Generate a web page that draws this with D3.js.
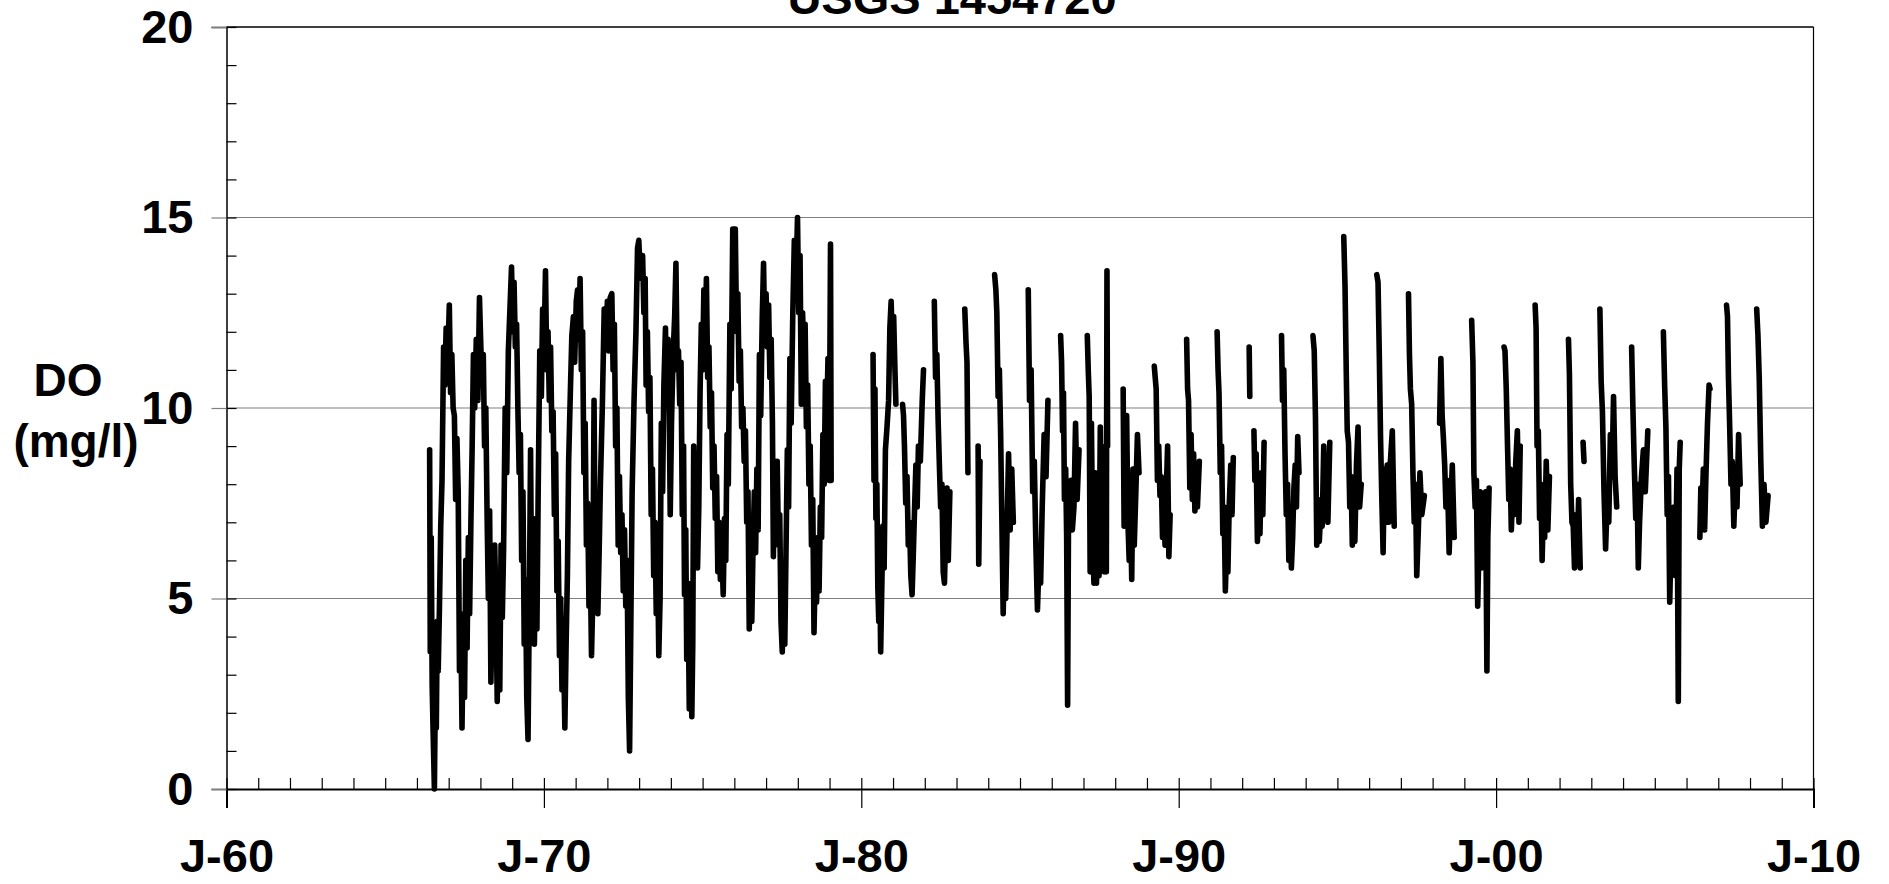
<!DOCTYPE html>
<html>
<head>
<meta charset="utf-8">
<script src="https://cdn.jsdelivr.net/npm/d3@7"></script>
<style>
  html, body { margin: 0; padding: 0; background: #fff; }
  svg { display: block; }
  text { font-family: "Liberation Sans", Arial, sans-serif; font-weight: bold; fill: #000; }
</style>
</head>
<body>
<svg id="chart" width="1889" height="884"></svg>
<script>
// ---------------- DATA (decimal year, DO mg/l; null = gap) ----------------
const chartTitle = "USGS 1454720";
const yLabelLines = ["DO", "(mg/l)"];
const xDomainYears = [1960, 2010];
const yDomain = [0, 20];
const xMajorTicks = [1960, 1970, 1980, 1990, 2000, 2010];
const xTickLabels = ["J-60", "J-70", "J-80", "J-90", "J-00", "J-10"];
const yMajorTicks = [0, 5, 10, 15, 20];
const yGridLines = [5, 10, 15];

const do1966to1969 = [
  [1966.40, 8.9],[1966.42, 3.6],[1966.45, 6.6],[1966.48, 2.7],[1966.51, 1.5],[1966.55, 0.0],[1966.58, 2.6],
  [1966.61, 1.6],[1966.64, 4.4],[1966.67, 3.1],[1966.71, 4.8],[1966.75, 6.9],[1966.79, 8.1],[1966.84, 11.6],
  [1966.88, 10.6],[1966.92, 12.1],[1966.96, 11.0],[1967.02, 12.7],[1967.06, 10.4],[1967.10, 11.4],[1967.14, 10.0],
  [1967.18, 9.8],[1967.22, 7.6],[1967.26, 9.2],[1967.30, 7.8],[1967.34, 3.1],[1967.38, 4.6],[1967.42, 1.6],
  [1967.46, 4.2],[1967.50, 2.4],[1967.54, 6.0],[1967.58, 3.7],[1967.62, 6.6],[1967.66, 4.6],[1967.70, 7.0],
  [1967.74, 9.0],[1967.78, 11.4],[1967.82, 10.0],[1967.87, 11.8],[1967.92, 10.2],[1967.97, 12.9],[1968.01, 11.7],
  [1968.05, 10.6],[1968.09, 11.4],[1968.13, 9.0],[1968.17, 10.0],[1968.21, 7.2],[1968.25, 5.0],[1968.29, 7.3],
  [1968.33, 2.8],[1968.37, 4.6],[1968.41, 3.6],[1968.45, 6.4],[1968.49, 4.8],[1968.53, 2.3],[1968.57, 5.0],
  [1968.61, 2.6],[1968.65, 6.4],[1968.69, 4.5],[1968.73, 6.3],[1968.78, 10.0],[1968.83, 8.3],[1968.88, 11.5],
  [1968.93, 12.6],[1968.98, 13.7],[1969.02, 12.0],[1969.06, 13.3],[1969.10, 11.6],[1969.14, 12.2],[1969.18, 10.0],
  [1969.22, 8.3],[1969.26, 9.3],[1969.30, 6.0],[1969.34, 7.8],[1969.38, 3.8],[1969.42, 5.5],[1969.46, 2.4],
  [1969.50, 1.3],[1969.54, 4.8],[1969.58, 8.9],[1969.62, 4.0],[1969.66, 7.1],[1969.70, 3.8],[1969.74, 6.0],
  [1969.78, 4.2],[1969.82, 7.8],[1969.87, 11.5],[1969.92, 10.3],[1969.96, 12.6]
];

const do1970to1974 = [
  [1970.01, 11.8],[1970.05, 13.6],[1970.09, 11.0],[1970.13, 12.0],[1970.17, 10.2],[1970.21, 11.6],[1970.25, 9.4],
  [1970.29, 9.9],[1970.33, 7.2],[1970.37, 8.8],[1970.41, 5.2],[1970.45, 6.5],[1970.49, 3.5],[1970.53, 5.0],
  [1970.57, 2.6],[1970.61, 4.2],[1970.66, 1.6],[1970.70, 3.8],[1970.74, 5.6],[1970.78, 8.6],[1970.83, 10.3],
  [1970.88, 11.9],[1970.93, 12.4],[1970.97, 11.2],[1971.02, 12.8],[1971.06, 13.1],[1971.10, 11.8],[1971.14, 13.4],
  [1971.18, 11.0],[1971.22, 12.0],[1971.26, 8.3],[1971.30, 9.6],[1971.34, 6.4],[1971.38, 7.5],[1971.42, 4.8],
  [1971.46, 6.0],[1971.50, 3.5],[1971.54, 5.0],[1971.58, 10.2],[1971.62, 5.4],[1971.66, 6.8],[1971.70, 4.6],
  [1971.74, 6.2],[1971.78, 8.0],[1971.84, 10.0],[1971.90, 12.6],[1971.95, 11.6],[1972.00, 12.8],[1972.04, 11.5],
  [1972.09, 12.9],[1972.14, 13.0],[1972.18, 11.0],[1972.22, 12.2],[1972.26, 9.0],[1972.30, 10.0],[1972.34, 6.4],
  [1972.38, 8.2],[1972.42, 6.2],[1972.46, 7.2],[1972.50, 5.2],[1972.54, 6.8],[1972.58, 4.8],[1972.62, 6.0],
  [1972.66, 2.4],[1972.70, 1.0],[1972.74, 4.4],[1972.78, 7.8],[1972.84, 10.2],[1972.90, 12.0],[1972.95, 14.2],
  [1972.99, 14.4],[1973.03, 13.6],[1973.07, 13.4],[1973.11, 14.0],[1973.15, 12.5],[1973.19, 13.4],[1973.22, 10.6],
  [1973.26, 12.0],[1973.30, 9.9],[1973.34, 10.8],[1973.38, 7.2],[1973.42, 8.4],[1973.46, 5.6],[1973.50, 7.0],
  [1973.54, 4.6],[1973.58, 6.2],[1973.62, 3.5],[1973.66, 5.0],[1973.70, 9.6],[1973.74, 7.8],[1973.78, 10.6],
  [1973.83, 12.1],[1973.87, 10.4],[1973.91, 11.8],[1973.95, 9.9],[1973.98, 7.2],[1974.02, 9.6],[1974.07, 11.4],
  [1974.12, 12.4],[1974.16, 13.8],[1974.20, 11.0],[1974.24, 11.5],[1974.28, 10.1],[1974.32, 11.2],[1974.36, 7.2],
  [1974.40, 9.0],[1974.43, 5.1],[1974.47, 6.8],[1974.50, 3.4],[1974.54, 5.4],[1974.58, 2.1],[1974.62, 4.8],
  [1974.66, 1.9],[1974.69, 3.8],[1974.72, 9.0],[1974.76, 6.4],[1974.80, 8.2],[1974.84, 5.8],[1974.88, 7.4],
  [1974.92, 10.4],[1974.96, 12.2]
];

const do1975to1979 = [
  [1975.00, 11.0],[1975.04, 13.1],[1975.08, 12.0],[1975.12, 13.4],[1975.16, 10.8],[1975.20, 11.6],[1975.24, 9.5],
  [1975.28, 10.4],[1975.32, 7.9],[1975.36, 9.0],[1975.40, 7.1],[1975.44, 8.2],[1975.48, 5.7],[1975.52, 7.0],
  [1975.56, 5.5],[1975.60, 6.4],[1975.65, 5.1],[1975.69, 7.1],[1975.73, 6.0],[1975.77, 9.3],[1975.81, 8.0],
  [1975.86, 12.2],[1975.90, 10.5],[1975.95, 14.7],[1975.99, 12.8],[1976.03, 14.7],[1976.07, 12.0],[1976.11, 13.0],
  [1976.15, 10.7],[1976.19, 11.5],[1976.23, 9.5],[1976.27, 10.0],[1976.31, 8.6],[1976.35, 9.4],[1976.39, 7.0],
  [1976.43, 7.8],[1976.47, 4.2],[1976.51, 6.0],[1976.55, 4.4],[1976.59, 6.4],[1976.63, 7.8],[1976.67, 6.2],
  [1976.71, 8.4],[1976.75, 6.8],[1976.79, 11.4],[1976.83, 9.8],[1976.88, 12.4],[1976.92, 13.8],[1976.96, 11.8],
  [1977.00, 13.0],[1977.04, 11.6],[1977.08, 12.7],[1977.12, 10.8],[1977.16, 11.8],[1977.20, 9.6],[1977.23, 6.1],
  [1977.27, 8.6],[1977.31, 7.4],[1977.35, 8.6],[1977.39, 6.4],[1977.43, 7.2],[1977.47, 4.4],[1977.51, 3.6],
  [1977.55, 5.6],[1977.59, 3.8],[1977.63, 6.4],[1977.67, 8.9],[1977.71, 7.4],[1977.75, 11.3],[1977.79, 9.6],
  [1977.84, 12.4],[1977.89, 14.4],[1977.94, 13.2],[1977.99, 15.0],[1978.03, 12.5],[1978.07, 14.0],[1978.11, 10.1],
  [1978.15, 12.5],[1978.19, 11.3],[1978.23, 12.2],[1978.27, 9.5],[1978.31, 10.6],[1978.35, 8.0],[1978.39, 9.0],
  [1978.43, 6.4],[1978.47, 7.6],[1978.51, 4.1],[1978.55, 5.8],[1978.59, 4.9],[1978.63, 6.6],[1978.67, 5.2],
  [1978.71, 7.4],[1978.75, 6.6],[1978.79, 9.3],[1978.83, 8.0],[1978.87, 10.7],[1978.91, 9.6],[1978.95, 11.3],
  [1978.99, 8.1],[1979.03, 14.3],[1979.05, 8.1],[1979.06, null]
];

const do1980to1986 = [
  [1980.37, 11.4],[1980.40, 8.1],[1980.43, 10.5],[1980.46, 7.1],[1980.49, 8.0],[1980.52, 5.3],[1980.55, 4.4],
  [1980.58, 5.8],[1980.61, 3.6],[1980.64, 5.0],[1980.68, 6.9],[1980.72, 5.8],[1980.76, 8.9],[1980.81, 9.5],
  [1980.86, 10.2],[1980.90, 12.1],[1980.94, 12.8],[1980.98, 11.6],[1981.02, 12.4],[1981.06, 11.0],[1981.09, 10.1],[1981.10, null],
  [1981.30, 10.1],[1981.33, 9.8],[1981.36, 9.0],[1981.40, 7.5],[1981.44, 8.2],[1981.48, 6.4],[1981.52, 7.0],
  [1981.56, 5.6],[1981.60, 5.1],[1981.64, 6.2],[1981.68, 7.4],[1981.72, 8.5],[1981.76, 7.4],[1981.80, 9.0],
  [1981.86, 8.6],[1981.92, 10.2],[1981.96, 11.0],[1981.97, null],
  [1982.30, 12.8],[1982.34, 10.8],[1982.38, 11.4],[1982.42, 9.7],[1982.46, 8.5],[1982.50, 7.4],[1982.54, 8.0],
  [1982.58, 5.7],[1982.62, 5.4],[1982.66, 6.8],[1982.70, 7.9],[1982.74, 6.0],[1982.79, 7.8],[1982.80, null],
  [1983.26, 12.6],[1983.30, 11.7],[1983.33, 11.2],[1983.36, 8.3],[1983.37, null],
  [1983.68, 9.0],[1983.70, 5.9],[1983.74, 8.6],[1983.75, null],
  [1984.20, 13.5],[1984.24, 13.1],[1984.27, 12.5],[1984.31, 10.3],[1984.35, 11.0],[1984.39, 9.3],[1984.43, 7.0],
  [1984.47, 4.6],[1984.51, 6.2],[1984.55, 5.0],[1984.60, 7.2],[1984.64, 8.8],[1984.69, 6.8],[1984.74, 8.4],
  [1984.79, 7.0],[1984.80, null],
  [1985.26, 13.1],[1985.30, 10.2],[1985.35, 11.0],[1985.40, 7.8],[1985.45, 8.6],[1985.50, 6.4],[1985.55, 4.7],
  [1985.60, 6.0],[1985.65, 5.4],[1985.70, 7.4],[1985.76, 9.3],[1985.82, 8.2],[1985.88, 10.2],[1985.89, null],
  [1986.28, 11.9],[1986.31, 11.2],[1986.34, 9.4],[1986.37, 10.4],[1986.40, 7.6],[1986.44, 8.4],[1986.47, 6.6],
  [1986.50, 2.2],[1986.53, 7.4],[1986.57, 6.9],[1986.61, 8.1],[1986.65, 6.8],[1986.70, 7.4],[1986.75, 9.6],
  [1986.80, 7.6],[1986.86, 8.9],[1986.87, null]
];

const do1987to1993 = [
  [1987.12, 11.9],[1987.15, 11.0],[1987.18, 10.3],[1987.21, 5.7],[1987.25, 9.6],[1987.29, 6.4],[1987.33, 5.4],
  [1987.37, 8.3],[1987.41, 5.4],[1987.45, 7.4],[1987.49, 5.6],[1987.53, 9.5],[1987.57, 6.0],[1987.61, 8.7],
  [1987.65, 5.7],[1987.69, 9.0],[1987.72, 5.7],[1987.74, 13.6],[1987.76, 9.0],[1987.77, null],
  [1988.25, 10.5],[1988.28, 6.9],[1988.32, 8.0],[1988.36, 9.8],[1988.40, 7.0],[1988.44, 6.0],[1988.48, 7.4],
  [1988.52, 5.5],[1988.56, 8.4],[1988.60, 6.4],[1988.65, 7.8],[1988.70, 9.3],[1988.75, 8.3],[1988.76, null],
  [1989.23, 11.1],[1989.26, 10.8],[1989.29, 10.5],[1989.33, 8.1],[1989.37, 9.0],[1989.41, 7.7],[1989.45, 8.2],
  [1989.49, 6.6],[1989.53, 7.4],[1989.57, 6.4],[1989.61, 7.8],[1989.65, 9.0],[1989.69, 6.1],[1989.73, 7.2],[1989.74, null],
  [1990.25, 11.8],[1990.28, 10.5],[1990.31, 10.2],[1990.35, 7.9],[1990.39, 9.3],[1990.43, 7.6],[1990.47, 8.8],
  [1990.51, 7.3],[1990.55, 8.2],[1990.59, 7.4],[1990.65, 8.6],[1990.66, null],
  [1991.21, 12.0],[1991.24, 11.0],[1991.27, 10.4],[1991.31, 8.3],[1991.35, 9.0],[1991.39, 6.7],[1991.43, 7.4],
  [1991.47, 5.2],[1991.51, 6.4],[1991.55, 5.7],[1991.59, 7.4],[1991.64, 8.5],[1991.68, 7.2],[1991.72, 8.7],[1991.73, null],
  [1992.22, 11.6],[1992.24, 10.3],[1992.25, null],
  [1992.37, 9.4],[1992.40, 8.1],[1992.44, 8.8],[1992.48, 6.5],[1992.52, 7.6],[1992.56, 6.7],[1992.60, 8.3],
  [1992.65, 7.2],[1992.69, 9.1],[1992.70, null],
  [1993.24, 11.9],[1993.27, 10.2],[1993.31, 11.0],[1993.35, 8.8],[1993.39, 7.2],[1993.43, 8.0],[1993.47, 6.0],
  [1993.51, 7.2],[1993.55, 5.8],[1993.59, 6.6],[1993.63, 7.9],[1993.67, 8.5],[1993.71, 7.4],[1993.75, 9.25],
  [1993.79, 8.3],[1993.80, null]
];

const do1994to2000 = [
  [1994.23, 11.9],[1994.27, 11.5],[1994.31, 9.7],[1994.35, 6.4],[1994.39, 7.6],[1994.43, 6.5],[1994.47, 7.2],
  [1994.52, 6.9],[1994.57, 9.0],[1994.61, 7.2],[1994.65, 8.0],[1994.70, 7.0],[1994.76, 9.1],[1994.77, null],
  [1995.20, 14.5],[1995.24, 13.2],[1995.28, 10.9],[1995.31, 9.4],[1995.35, 9.1],[1995.39, 7.4],[1995.43, 8.2],
  [1995.47, 6.4],[1995.51, 7.0],[1995.55, 6.5],[1995.60, 8.5],[1995.65, 9.5],[1995.70, 7.4],[1995.75, 8.0],[1995.76, null],
  [1996.24, 13.5],[1996.28, 13.3],[1996.32, 11.4],[1996.36, 9.2],[1996.40, 7.6],[1996.44, 6.2],[1996.48, 8.4],
  [1996.52, 7.0],[1996.57, 8.5],[1996.62, 7.0],[1996.67, 8.6],[1996.73, 9.4],[1996.79, 6.9],[1996.80, null],
  [1997.24, 13.0],[1997.27, 11.4],[1997.30, 10.5],[1997.34, 10.1],[1997.38, 8.3],[1997.42, 7.0],[1997.46, 8.0],
  [1997.50, 5.6],[1997.55, 6.8],[1997.60, 8.3],[1997.66, 7.2],[1997.74, 7.7],[1997.75, null],
  [1998.22, 9.6],[1998.26, 11.3],[1998.30, 9.8],[1998.34, 9.2],[1998.38, 8.5],[1998.42, 7.4],[1998.47, 8.1],
  [1998.52, 6.2],[1998.57, 7.4],[1998.62, 8.5],[1998.68, 6.6],[1998.69, null],
  [1999.23, 12.3],[1999.27, 11.2],[1999.30, 8.3],[1999.34, 7.4],[1999.38, 8.1],[1999.42, 4.8],[1999.46, 6.4],
  [1999.50, 7.8],[1999.54, 5.8],[1999.58, 7.4],[1999.62, 6.8],[1999.67, 7.8],[1999.71, 3.1],[1999.74, 6.6],
  [1999.78, 7.9],[1999.79, null],
  [2000.25, 11.6],[2000.28, 11.5],[2000.32, 10.5],[2000.36, 9.0],[2000.40, 7.6],[2000.44, 8.4],[2000.48, 6.8],
  [2000.52, 7.8],[2000.57, 7.2],[2000.62, 8.6],[2000.67, 9.4],[2000.72, 7.0],[2000.76, 9.0],[2000.77, null]
];

const do2001to2008 = [
  [2001.23, 12.7],[2001.26, 12.1],[2001.29, 9.0],[2001.33, 9.4],[2001.37, 7.1],[2001.41, 8.0],[2001.45, 6.0],
  [2001.49, 7.4],[2001.53, 6.6],[2001.58, 8.6],[2001.63, 6.8],[2001.68, 8.2],[2001.69, null],
  [2002.28, 11.8],[2002.31, 10.9],[2002.35, 8.0],[2002.39, 7.0],[2002.43, 6.9],[2002.47, 5.8],[2002.51, 7.2],
  [2002.55, 6.0],[2002.60, 7.6],[2002.65, 5.8],[2002.66, null],[2002.74, 9.1],[2002.77, 8.6],[2002.78, null],
  [2003.27, 12.6],[2003.31, 10.7],[2003.35, 9.9],[2003.40, 7.8],[2003.45, 6.3],[2003.50, 7.6],[2003.55, 7.0],
  [2003.60, 9.3],[2003.65, 8.2],[2003.70, 10.3],[2003.75, 8.2],[2003.80, 7.4],[2003.81, null],
  [2004.27, 11.6],[2004.31, 10.0],[2004.35, 8.6],[2004.40, 7.1],[2004.44, 8.0],[2004.48, 5.8],[2004.52, 7.0],
  [2004.58, 8.2],[2004.64, 8.9],[2004.70, 7.8],[2004.78, 9.4],[2004.79, null],
  [2005.27, 12.0],[2005.31, 10.6],[2005.35, 9.5],[2005.39, 7.2],[2005.43, 8.2],[2005.47, 4.9],[2005.51, 6.4],
  [2005.55, 5.8],[2005.60, 7.4],[2005.65, 5.6],[2005.70, 8.4],[2005.74, 2.3],[2005.77, 8.4],[2005.80, 9.1],[2005.81, null],
  [2006.42, 6.6],[2006.45, 7.9],[2006.49, 7.4],[2006.53, 8.4],[2006.57, 6.8],[2006.61, 8.2],[2006.66, 9.6],
  [2006.71, 10.6],[2006.74, 10.5],[2006.75, null],
  [2007.26, 12.7],[2007.29, 12.4],[2007.32, 10.8],[2007.36, 9.5],[2007.40, 8.0],[2007.44, 8.6],[2007.49, 6.9],
  [2007.54, 8.2],[2007.59, 7.4],[2007.64, 9.3],[2007.69, 8.0],[2007.70, null],
  [2008.21, 12.6],[2008.25, 11.9],[2008.29, 10.8],[2008.34, 8.6],[2008.39, 6.9],[2008.44, 8.0],[2008.50, 7.0],
  [2008.57, 7.7]
];

// ---------------- CHART ----------------
const svg = d3.select("#chart");
const plot = { left: 226.5, right: 1813.5, top: 27, bottom: 789 };

const x = d3.scaleLinear().domain(xDomainYears).range([plot.left, plot.right]);
const y = d3.scaleLinear().domain(yDomain).range([plot.bottom, plot.top]);

// gridlines
svg.append("g").selectAll("line").data(yGridLines).join("line")
  .attr("x1", plot.left).attr("x2", plot.right)
  .attr("y1", d => y(d)).attr("y2", d => y(d))
  .attr("stroke", "#808080").attr("stroke-width", 1.2);

// plot frame top & right
svg.append("line").attr("x1", plot.left).attr("x2", plot.right)
  .attr("y1", y(20)).attr("y2", y(20)).attr("stroke", "#000").attr("stroke-width", 1.5);
svg.append("line").attr("x1", plot.right).attr("x2", plot.right)
  .attr("y1", y(20)).attr("y2", y(0)).attr("stroke", "#000").attr("stroke-width", 1.2);

// data line
const allObs = [].concat(do1966to1969, do1970to1974, do1975to1979, do1980to1986,
                         do1987to1993, do1994to2000, do2001to2008);
const line = d3.line()
  .defined(d => d[1] !== null)
  .x(d => x(d[0]))
  .y(d => y(d[1]));
svg.append("path").datum(allObs)
  .attr("d", line)
  .attr("fill", "none")
  .attr("stroke", "#000")
  .attr("stroke-width", 5.6)
  .attr("stroke-linejoin", "round")
  .attr("stroke-linecap", "round");

// x axis: minor (yearly) ticks inside
const xMinor = svg.append("g").attr("transform", `translate(0,${plot.bottom})`)
  .call(d3.axisBottom(x).tickValues(d3.range(1960, 2011)).tickSize(-11).tickFormat(""));
xMinor.select(".domain").remove();
xMinor.selectAll("line").attr("stroke", "#000").attr("stroke-width", 1.2);

// x axis: major ticks outside with labels
const xMajor = svg.append("g").attr("transform", `translate(0,${plot.bottom})`)
  .call(d3.axisBottom(x).tickValues(xMajorTicks).tickSize(19).tickPadding(31)
    .tickFormat((d, i) => xTickLabels[i]));
xMajor.select(".domain").attr("stroke", "#000").attr("stroke-width", 2);
xMajor.selectAll("line").attr("stroke", "#000").attr("stroke-width", 1.2);
xMajor.selectAll("text").style("font-size", "47px").attr("fill", "#000");

// y axis: minor ticks inside
const yMinor = svg.append("g").attr("transform", `translate(${plot.left},0)`)
  .call(d3.axisLeft(y).tickValues(d3.range(0, 21)).tickSize(-10).tickFormat(""));
yMinor.select(".domain").remove();
yMinor.selectAll("line").attr("stroke", "#000").attr("stroke-width", 1.2);

// y axis: major ticks outside with labels
const yMajor = svg.append("g").attr("transform", `translate(${plot.left},0)`)
  .call(d3.axisLeft(y).tickValues(yMajorTicks).tickSize(15).tickPadding(18).tickFormat(d3.format("d")));
yMajor.select(".domain").attr("stroke", "#000").attr("stroke-width", 1.5);
yMajor.selectAll("line").attr("stroke", "#808080").attr("stroke-width", 1.2);
yMajor.selectAll("text").style("font-size", "47px").attr("fill", "#000");

// y-axis title
svg.append("text").attr("x", 68).attr("y", 396).attr("text-anchor", "middle")
  .style("font-size", "46px").text(yLabelLines[0]);
svg.append("text").attr("x", 76).attr("y", 457).attr("text-anchor", "middle")
  .style("font-size", "46px").text(yLabelLines[1]);

// chart title (partly clipped at top, as in the reference)
svg.append("text").attr("x", 952).attr("y", 14).attr("text-anchor", "middle")
  .style("font-size", "47px").text(chartTitle);
</script>
</body>
</html>
